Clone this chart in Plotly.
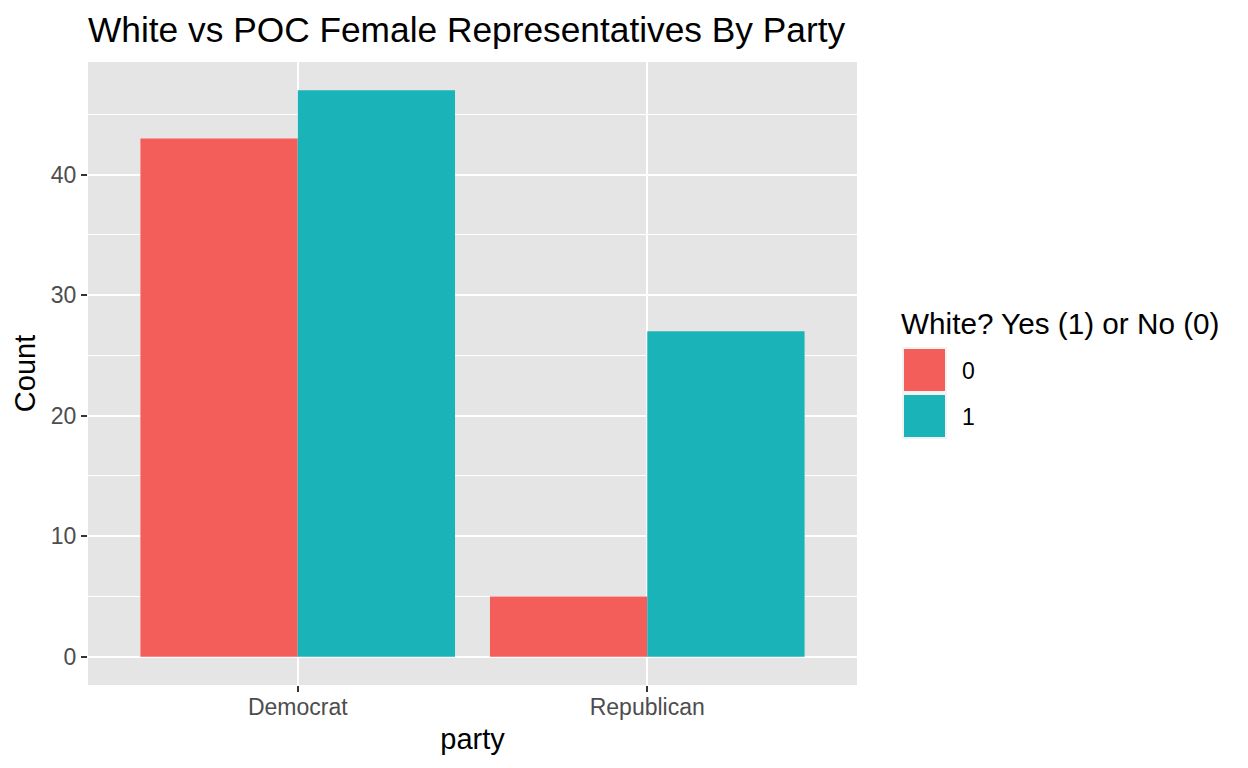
import plotly.graph_objects as go

# data
parties = ["Democrat", "Republican"]
white_groups = ["0", "1"]
counts_0 = [43, 5]
counts_1 = [47, 27]

bar_colors = {"0": "#F35E5A", "1": "#1AB3B8"}

# page has an 8px body margin, so the figure is placed at (8, 8)
OFF = 8
W, H = 1248 - OFF, 768 - OFF
L, T = 88 - OFF, 62 - OFF
R, B = W - (857 - OFF), H - (685 - OFF)
pw, ph = W - L - R, H - T - B


def px_x(px):
    # page pixel -> paper coordinate
    return (px - OFF - L) / pw


def px_y(py):
    return (H - B - (py - OFF)) / ph


fig = go.Figure()
for grp, vals in zip(white_groups, [counts_0, counts_1]):
    fig.add_trace(go.Bar(x=parties, y=vals, name=grp,
                         marker=dict(color=bar_colors[grp], line=dict(width=0)),
                         showlegend=False))

font = "Liberation Sans, Arial, Helvetica, sans-serif"

fig.update_layout(
    width=W, height=H,
    margin=dict(l=L, r=R, t=T, b=B),
    paper_bgcolor="white",
    plot_bgcolor="#E5E5E5",
    barmode="group", bargap=0.1, bargroupgap=0,
    font=dict(family=font, color="black"),
    title=dict(text="White vs POC Female Representatives By Party",
               x=0, xanchor="left", xref="paper", y=1 - (30 - OFF) / H, yanchor="middle",
               font=dict(size=35.3, color="black")),
    xaxis=dict(range=[-0.6, 1.6], showgrid=True, gridcolor="white", gridwidth=2.2,
               ticks="outside", ticklen=6, tickwidth=2.2, tickcolor="#333333",
               ticklabelstandoff=-5,
               tickfont=dict(size=23, color="#4D4D4D"), zeroline=False,
               title=dict(text="party", font=dict(size=29, color="black"), standoff=10)),
    yaxis=dict(range=[-2.35, 49.35], tick0=0, dtick=10, showgrid=True,
               gridcolor="white", gridwidth=2.2, zeroline=False,
               ticks="outside", ticklen=6, tickwidth=2.2, tickcolor="#333333",
               tickfont=dict(size=23, color="#4D4D4D"),
               minor=dict(dtick=5, tick0=0, showgrid=True, gridcolor="white", gridwidth=1.1),
               title=dict(text="Count", font=dict(size=29, color="black"), standoff=6)),
)

# legend drawn in ggplot style
shapes = []
annotations = [dict(text="White? Yes (1) or No (0)", xref="paper", yref="paper",
                    x=px_x(899), y=px_y(323), xanchor="left", yanchor="middle",
                    showarrow=False, font=dict(size=29.7, color="black"))]
key_tops = [349, 395]
for grp, top in zip(white_groups, key_tops):
    shapes.append(dict(type="rect", xref="paper", yref="paper",
                       x0=px_x(902), x1=px_x(947), y0=px_y(top - 2), y1=px_y(top + 44),
                       fillcolor="#F2F2F2", line=dict(width=0), layer="below"))
    shapes.append(dict(type="rect", xref="paper", yref="paper",
                       x0=px_x(904), x1=px_x(945), y0=px_y(top), y1=px_y(top + 42),
                       fillcolor=bar_colors[grp], line=dict(width=0)))
    annotations.append(dict(text=grp, xref="paper", yref="paper",
                            x=px_x(960), y=px_y(top + 22), xanchor="left", yanchor="middle",
                            showarrow=False, font=dict(size=23, color="black")))
fig.update_layout(shapes=shapes, annotations=annotations)

fig.write_html("out.html")
